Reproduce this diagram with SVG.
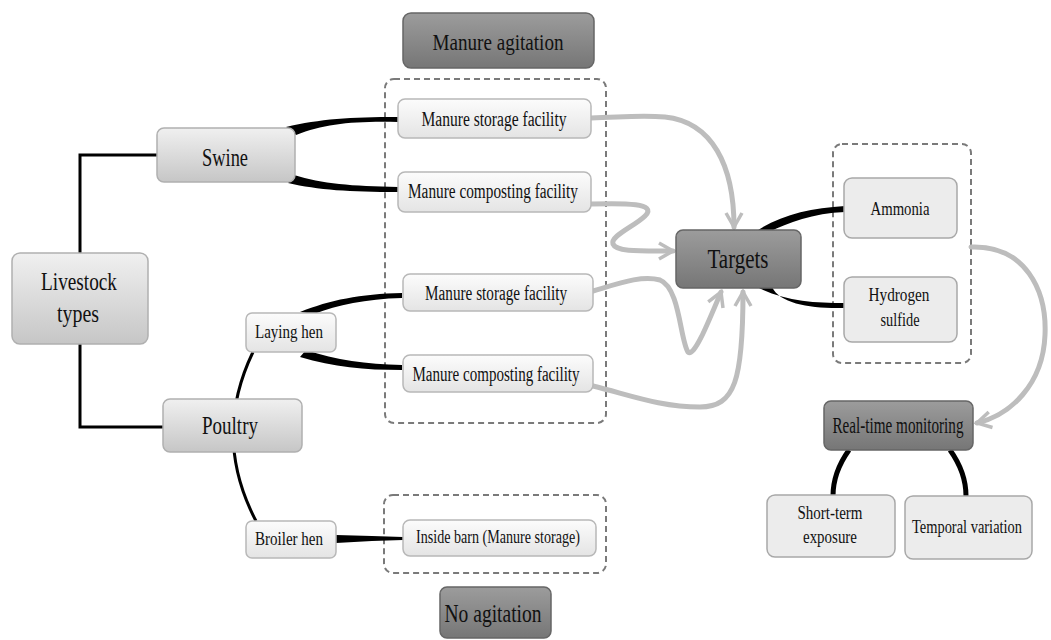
<svg xmlns="http://www.w3.org/2000/svg" width="1051" height="640" viewBox="0 0 1051 640" font-family="'Liberation Serif', 'DejaVu Serif', serif">
<defs>
<linearGradient id="gDark" x1="0" y1="0" x2="0" y2="1"><stop offset="0" stop-color="#9c9c9c"/><stop offset="1" stop-color="#767676"/></linearGradient>
<linearGradient id="gMid" x1="0" y1="0" x2="0" y2="1"><stop offset="0" stop-color="#f0f0f0"/><stop offset="1" stop-color="#c6c6c6"/></linearGradient>
<linearGradient id="gLight" x1="0" y1="0" x2="0" y2="1"><stop offset="0" stop-color="#fcfcfc"/><stop offset="1" stop-color="#e4e4e4"/></linearGradient>
<marker id="arr" viewBox="0 0 20 20" refX="16" refY="10" markerWidth="20" markerHeight="20" markerUnits="userSpaceOnUse" orient="auto">
<path d="M2,2 L16,10 L2,18" fill="none" stroke="#bdbdbd" stroke-width="3.5" stroke-linejoin="miter"/>
</marker>
<style>
.dark{fill:url(#gDark);stroke:#666;stroke-width:1.5}
.mid{fill:url(#gMid);stroke:#b0b0b0;stroke-width:1.5}
.light{fill:url(#gLight);stroke:#b8b8b8;stroke-width:1.5}
.flat{fill:#ececec;stroke:#a8a8a8;stroke-width:1.5}
.dash{fill:none;stroke:#7a7a7a;stroke-width:2;stroke-dasharray:6 4}
.blk{fill:none;stroke:#000;stroke-width:3}
.wedge{fill:#000;stroke:none}
.gray{fill:none;stroke:#bdbdbd;stroke-width:5;stroke-linecap:round;marker-end:url(#arr)}
text{font-family:"Liberation Serif","DejaVu Serif",serif;fill:#111;text-anchor:middle}
</style>
</defs>
<rect width="1051" height="640" fill="#fff"/>

<g id="groups">
<rect class="dash" x="385" y="79" width="221" height="344" rx="9"/>
<rect class="dash" x="384" y="495" width="222" height="78" rx="9"/>
<rect class="dash" x="833" y="144" width="138" height="219" rx="9"/>
</g>

<g id="connectors">
<path class="blk" d="M157,155 H80 V253"/>
<path class="blk" d="M80,344 V427 H163"/>
<path class="blk" d="M253,352 Q212,437 256,521"/>
<path class="wedge" d="M286,127 C320,119 350,117 398,117 L398,122 C352,121 325,124 296,135 Z"/>
<path class="wedge" d="M294,175 C322,184 352,186 398,187 L398,192 C350,192 318,190 288,183 Z"/>
<path class="wedge" d="M300,312 C330,300 360,294 402,293 L402,298 C365,299 338,305 314,314 Z"/>
<path class="wedge" d="M306,350 C336,360 366,364 402,365 L402,370 C364,370 334,367 300,357 Z"/>
<path class="wedge" d="M336,535 L372,536 L403,537 L403,540 L372,541 L336,543 Z"/>
<path class="wedge" d="M755,232 C780,215 810,208 845,206 L845,212 C813,213 788,223 769,232 Z"/>
<path class="wedge" d="M757,287 C784,301 814,303 845,303 L845,308 C812,309 780,304 772,287 Z"/>
<path class="blk" style="stroke-width:5" d="M849,450 C839,464 833,480 833,496"/>
<path class="blk" style="stroke-width:5" d="M950,450 C960,464 966,480 966,496"/>
<path class="gray" d="M591,118 C625,117 640,115 665,117 C712,122 734,165 734,227"/>
<path class="gray" d="M591,204 C625,203 658,203 645,216 C635,226 610,236 613,244 C616,252 640,251 673,251"/>
<path class="gray" d="M593,291 C620,283 642,275 660,280 C680,288 680,340 688,352 C694,357 706,328 721,292"/>
<path class="gray" d="M593,386 C630,395 660,407 700,407 C735,407 743,380 743,292"/>
<path class="gray" d="M971,247 C1025,245 1047,290 1045,335 C1043,385 1010,415 977,423"/>
</g>

<g id="n-agitation"><rect class="dark" x="403" y="13" width="191" height="55" rx="8"/><text x="498" y="50" font-size="24" textLength="131" lengthAdjust="spacingAndGlyphs">Manure agitation</text></g>
<g id="n-swine"><rect class="mid" x="157" y="128" width="138" height="54" rx="7"/><text x="225" y="166" font-size="25" textLength="46" lengthAdjust="spacingAndGlyphs">Swine</text></g>
<g id="n-livestock"><rect class="mid" x="12" y="253" width="136" height="91" rx="8"/><text x="79" y="290" font-size="25" textLength="76" lengthAdjust="spacingAndGlyphs">Livestock</text><text x="78" y="322" font-size="25" textLength="42" lengthAdjust="spacingAndGlyphs">types</text></g>
<g id="n-poultry"><rect class="mid" x="163" y="399" width="139" height="53" rx="7"/><text x="230" y="434" font-size="25" textLength="56" lengthAdjust="spacingAndGlyphs">Poultry</text></g>
<g id="n-laying"><rect class="light" x="246" y="313" width="90" height="39" rx="6"/><text x="289" y="338" font-size="19" textLength="68" lengthAdjust="spacingAndGlyphs">Laying hen</text></g>
<g id="n-broiler"><rect class="light" x="246" y="521" width="90" height="37" rx="6"/><text x="289" y="545" font-size="19" textLength="68" lengthAdjust="spacingAndGlyphs">Broiler hen</text></g>
<g id="n-store1"><rect class="light" x="398" y="99" width="193" height="39" rx="7"/><text x="494" y="126" font-size="20" textLength="145" lengthAdjust="spacingAndGlyphs">Manure storage facility</text></g>
<g id="n-comp1"><rect class="light" x="398" y="172" width="193" height="40" rx="7"/><text x="493" y="198" font-size="20" textLength="170" lengthAdjust="spacingAndGlyphs">Manure composting facility</text></g>
<g id="n-store2"><rect class="light" x="403" y="274" width="190" height="37" rx="7"/><text x="496" y="300" font-size="20" textLength="142" lengthAdjust="spacingAndGlyphs">Manure storage facility</text></g>
<g id="n-comp2"><rect class="light" x="403" y="355" width="190" height="37" rx="7"/><text x="496" y="381" font-size="20" textLength="167" lengthAdjust="spacingAndGlyphs">Manure composting facility</text></g>
<g id="n-barn"><rect class="light" x="403" y="520" width="193" height="36" rx="7"/><text x="498" y="543" font-size="18" textLength="164" lengthAdjust="spacingAndGlyphs">Inside barn (Manure storage)</text></g>
<g id="n-noagit"><rect class="dark" x="440" y="587" width="111" height="51" rx="7"/><text x="493" y="622" font-size="25" textLength="97" lengthAdjust="spacingAndGlyphs">No agitation</text></g>
<g id="n-targets"><rect class="dark" x="676" y="230" width="125" height="58" rx="7"/><text x="738" y="268" font-size="28" textLength="61" lengthAdjust="spacingAndGlyphs">Targets</text></g>
<g id="n-ammonia"><rect class="flat" x="844" y="178" width="113" height="60" rx="8"/><text x="900" y="215" font-size="18" textLength="59" lengthAdjust="spacingAndGlyphs">Ammonia</text></g>
<g id="n-h2s"><rect class="flat" x="844" y="277" width="113" height="65" rx="8"/><text x="899" y="301" font-size="18" textLength="61" lengthAdjust="spacingAndGlyphs">Hydrogen</text><text x="900" y="326" font-size="18" textLength="39" lengthAdjust="spacingAndGlyphs">sulfide</text></g>
<g id="n-realtime"><rect class="dark" x="824" y="401" width="149" height="49" rx="7"/><text x="898" y="433" font-size="23" textLength="131" lengthAdjust="spacingAndGlyphs">Real-time monitoring</text></g>
<g id="n-short"><rect class="flat" x="767" y="495" width="128" height="62" rx="8"/><text x="830" y="519" font-size="18" textLength="65" lengthAdjust="spacingAndGlyphs">Short-term</text><text x="830" y="543" font-size="18" textLength="54" lengthAdjust="spacingAndGlyphs">exposure</text></g>
<g id="n-temporal"><rect class="flat" x="905" y="496" width="127" height="63" rx="8"/><text x="967" y="533" font-size="18" textLength="110" lengthAdjust="spacingAndGlyphs">Temporal variation</text></g>
</svg>
